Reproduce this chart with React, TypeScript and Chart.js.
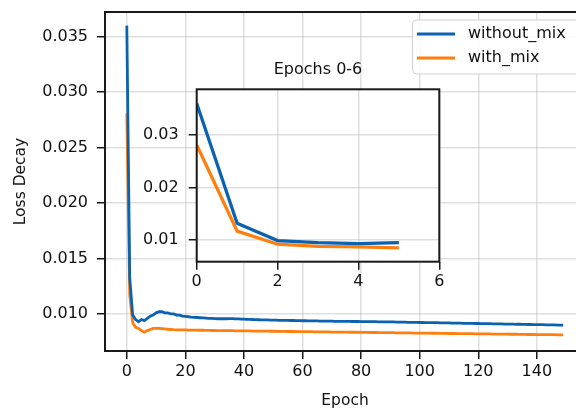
import React, { useEffect, useRef } from "react";
import { Chart, registerables } from "chart.js";

Chart.register(...registerables);

const FONT = "'DejaVu Sans', sans-serif";

const EPOCHS: number[] = Array.from({ length: 150 }, (_, i) => i);

const WITHOUT_MIX: number[] = [
  0.036, 0.0132, 0.0099, 0.0095, 0.0093, 0.0095, 0.0094, 0.0096, 0.0098, 0.0099,
  0.0101, 0.0102, 0.0102, 0.0101, 0.0101, 0.01, 0.01, 0.0099, 0.0099, 0.0098,
  0.00978,
  0.00975, 0.00972, 0.0097, 0.00968, 0.00966, 0.00964, 0.00962, 0.0096, 0.0096, 0.00958,
  0.00957, 0.00957, 0.00958, 0.00957, 0.00958, 0.00958, 0.00956, 0.00955, 0.00954, 0.00953,
  0.00952, 0.00951, 0.0095, 0.00949, 0.00948, 0.00947, 0.00946, 0.00946, 0.00945, 0.00944,
  0.00944, 0.00943, 0.00943, 0.00942, 0.00942, 0.00941, 0.00941, 0.0094, 0.0094, 0.00939,
  0.00939, 0.00938, 0.00938, 0.00937, 0.00937, 0.00936, 0.00936, 0.00936, 0.00935, 0.00935,
  0.00934, 0.00934, 0.00934, 0.00933, 0.00933, 0.00933, 0.00932, 0.00932, 0.00932, 0.00931,
  0.00931, 0.00931, 0.0093, 0.0093, 0.0093, 0.00929, 0.00929, 0.00929, 0.00928, 0.00928,
  0.00928, 0.00927, 0.00927, 0.00926, 0.00926, 0.00925, 0.00925, 0.00924, 0.00924, 0.00923,
  0.00923, 0.00922, 0.00922, 0.00921, 0.00921, 0.00921, 0.0092, 0.0092, 0.00919, 0.00919,
  0.00918, 0.00918, 0.00917, 0.00917, 0.00916, 0.00916, 0.00915, 0.00915, 0.00914, 0.00914,
  0.00913, 0.00913, 0.00912, 0.00912, 0.00911, 0.00911, 0.0091, 0.0091, 0.00909, 0.00909,
  0.00908, 0.00908, 0.00907, 0.00907, 0.00906, 0.00906, 0.00905, 0.00905, 0.00904, 0.00904,
  0.00903, 0.00903, 0.00902, 0.00902, 0.00901, 0.00901, 0.009, 0.009, 0.009,
];

const WITH_MIX: number[] = [
  0.0281, 0.0117, 0.0092, 0.0088, 0.0087, 0.0085, 0.00835, 0.0085, 0.0086, 0.0087,
  0.0087, 0.0087, 0.00868, 0.00865, 0.00862, 0.0086, 0.00858, 0.00857, 0.00857, 0.00856,
  0.00856,
  0.00855, 0.00855, 0.00854, 0.00854, 0.00853, 0.00853, 0.00852, 0.00852, 0.00851, 0.00851,
  0.0085, 0.0085, 0.0085, 0.00849, 0.00849, 0.00849, 0.00848, 0.00848, 0.00848, 0.00847,
  0.00847, 0.00847, 0.00846, 0.00846, 0.00846, 0.00845, 0.00845, 0.00845, 0.00844, 0.00844,
  0.00844, 0.00843, 0.00843, 0.00843, 0.00842, 0.00842, 0.00842, 0.00841, 0.00841, 0.00841,
  0.0084, 0.0084, 0.0084, 0.00839, 0.00839, 0.00839, 0.00838, 0.00838, 0.00838, 0.00837,
  0.00837, 0.00837, 0.00836, 0.00836, 0.00836, 0.00835, 0.00835, 0.00835, 0.00835, 0.00834,
  0.00834, 0.00834, 0.00833, 0.00833, 0.00833, 0.00832, 0.00832, 0.00832, 0.00831, 0.00831,
  0.00831, 0.0083, 0.0083, 0.0083, 0.00829, 0.00829, 0.00829, 0.00828, 0.00828, 0.00828,
  0.00827, 0.00827, 0.00827, 0.00826, 0.00826, 0.00826, 0.00825, 0.00825, 0.00825, 0.00824,
  0.00824, 0.00824, 0.00823, 0.00823, 0.00823, 0.00822, 0.00822, 0.00822, 0.00821, 0.00821,
  0.00821, 0.0082, 0.0082, 0.0082, 0.00819, 0.00819, 0.00819, 0.00818, 0.00818, 0.00818,
  0.00817, 0.00817, 0.00817, 0.00816, 0.00816, 0.00816, 0.00815, 0.00815, 0.00815, 0.00814,
  0.00814, 0.00814, 0.00813, 0.00813, 0.00813, 0.00813, 0.00812, 0.00812, 0.00812,
];

const SERIES_LABELS = ["without_mix", "with_mix"];
const SERIES_COLORS = ["#0b62ae", "#ff7f0e"];

const MAIN_X_TICKS = [0, 20, 40, 60, 80, 100, 120, 140];
const MAIN_Y_TICKS = [0.01, 0.015, 0.02, 0.025, 0.03, 0.035];
const INSET_EPOCH_COUNT = 6; // epochs 0..5
const INSET_X_TICKS = [0, 2, 4, 6];
const INSET_Y_TICKS = [0.01, 0.02, 0.03];
const INSET_TITLE = "Epochs 0-6";

const GRID = "rgba(170,170,170,0.38)";
const SPINE = "#1a1a1a";
const TEXT = "#111111";

const toXY = (ys: number[], n?: number) =>
  EPOCHS.slice(0, n ?? EPOCHS.length).map((e, i) => ({ x: e, y: ys[i] }));

const spinePlugin = {
  id: "spines",
  afterDatasetsDraw(chart: any) {
    const { ctx, chartArea: a } = chart;
    ctx.save();
    ctx.strokeStyle = SPINE;
    ctx.lineWidth = 2;
    ctx.strokeRect(a.left, a.top, a.right - a.left, a.bottom - a.top);
    ctx.restore();
  },
};

const legendPlugin = {
  id: "mplLegend",
  afterDraw(chart: any) {
    const { ctx } = chart;
    ctx.save();
    const x = 412.5, y = 20, w = 180, h = 54, r = 4;
    ctx.beginPath();
    ctx.moveTo(x + r, y);
    ctx.lineTo(x + w - r, y);
    ctx.arcTo(x + w, y, x + w, y + r, r);
    ctx.lineTo(x + w, y + h - r);
    ctx.arcTo(x + w, y + h, x + w - r, y + h, r);
    ctx.lineTo(x + r, y + h);
    ctx.arcTo(x, y + h, x, y + h - r, r);
    ctx.lineTo(x, y + r);
    ctx.arcTo(x, y, x + r, y, r);
    ctx.closePath();
    ctx.fillStyle = "rgba(255,255,255,0.85)";
    ctx.fill();
    ctx.strokeStyle = "#d0d0d0";
    ctx.lineWidth = 1;
    ctx.stroke();
    chart.data.datasets.forEach((ds: any, i: number) => {
      const yy = 34 + i * 24;
      ctx.beginPath();
      ctx.moveTo(417, yy);
      ctx.lineTo(455, yy);
      ctx.strokeStyle = ds.borderColor;
      ctx.lineWidth = 3;
      ctx.stroke();
      ctx.fillStyle = TEXT;
      ctx.font = `16px ${FONT}`;
      ctx.textBaseline = "middle";
      ctx.textAlign = "left";
      ctx.fillText(ds.label, 468, yy);
    });
    ctx.restore();
  },
};

const insetBgPlugin = {
  id: "insetBg",
  beforeDraw(chart: any) {
    const { ctx, chartArea: a } = chart;
    ctx.save();
    ctx.fillStyle = "#ffffff";
    ctx.fillRect(a.left, a.top, a.right - a.left, a.bottom - a.top);
    ctx.restore();
  },
  afterDraw(chart: any) {
    const { ctx, chartArea: a } = chart;
    ctx.save();
    ctx.fillStyle = TEXT;
    ctx.font = `16px ${FONT}`;
    ctx.textAlign = "center";
    ctx.textBaseline = "middle";
    ctx.fillText(INSET_TITLE, (a.left + a.right) / 2, 14.5);
    ctx.restore();
  },
};

function makeScale(opts: any) {
  return {
    type: "linear",
    min: opts.min,
    max: opts.max,
    afterBuildTicks: (s: any) => {
      s.ticks = opts.ticks.map((v: number) => ({ value: v }));
    },
    afterFit: (s: any) => {
      if (opts.width !== undefined) s.width = opts.width;
      if (opts.height !== undefined) s.height = opts.height;
      s.paddingTop = 0;
      s.paddingBottom = 0;
      s.paddingLeft = 0;
      s.paddingRight = 0;
    },
    border: { display: false },
    grid: {
      color: GRID,
      lineWidth: 1.5,
      tickColor: SPINE,
      tickWidth: 1.5,
      tickLength: 8,
      drawTicks: true,
    },
    ticks: {
      color: TEXT,
      font: { family: FONT, size: 16 },
      padding: opts.padding,
      maxRotation: 0,
      autoSkip: false,
      callback: opts.fmt,
    },
    title: opts.title
      ? {
          display: true,
          text: opts.title,
          color: TEXT,
          font: { family: FONT, size: 15.5 },
          padding: opts.titlePadding,
        }
      : { display: false },
  };
}

export default function App() {
  const mainRef = useRef<HTMLCanvasElement>(null);
  const insetRef = useRef<HTMLCanvasElement>(null);

  useEffect(() => {
    const datasetsFor = (n?: number, lw = 2.5) =>
      [WITHOUT_MIX, WITH_MIX].map((ys, i) => ({
        label: SERIES_LABELS[i],
        data: toXY(ys, n),
        borderColor: SERIES_COLORS[i],
        backgroundColor: SERIES_COLORS[i],
        borderWidth: lw,
        pointRadius: 0,
        tension: 0,
        fill: false,
      }));

    const main = new Chart(mainRef.current!, {
      type: "line",
      data: { datasets: datasetsFor(undefined, 2.8) as any },
      options: {
        responsive: false,
        animation: false,
        devicePixelRatio: 1,
        layout: { padding: { left: 0, top: 12, right: 15, bottom: 0 } },
        plugins: { legend: { display: false }, tooltip: { enabled: false } },
        scales: {
          x: makeScale({
            min: -7.45,
            max: 156.45,
            ticks: MAIN_X_TICKS,
            height: 59,
            padding: 3,
            fmt: (v: any) => String(v),
            title: "Epoch",
            titlePadding: { top: 0, bottom: 0 },
          }) as any,
          y: makeScale({
            min: 0.00666,
            max: 0.03723,
            ticks: MAIN_Y_TICKS,
            width: 105,
            padding: 9,
            fmt: (v: any) => Number(v).toFixed(3),
            title: "Loss Decay",
            titlePadding: { top: 12, bottom: 0 },
          }) as any,
        },
      },
      plugins: [spinePlugin, legendPlugin],
    });

    const inset = new Chart(insetRef.current!, {
      type: "line",
      data: { datasets: datasetsFor(INSET_EPOCH_COUNT, 3.3) as any },
      options: {
        responsive: false,
        animation: false,
        devicePixelRatio: 1,
        layout: { padding: { left: 0, top: 34.3, right: 10.7, bottom: 0 } },
        plugins: { legend: { display: false }, tooltip: { enabled: false } },
        scales: {
          x: makeScale({
            min: 0,
            max: 6,
            ticks: INSET_X_TICKS,
            height: 38.3,
            padding: 3,
            fmt: (v: any) => String(v),
          }) as any,
          y: makeScale({
            min: 0.00587,
            max: 0.0387,
            ticks: INSET_Y_TICKS,
            width: 66.7,
            padding: 10,
            fmt: (v: any) => Number(v).toFixed(2),
          }) as any,
        },
      },
      plugins: [insetBgPlugin, spinePlugin],
    });

    return () => {
      main.destroy();
      inset.destroy();
    };
  }, []);

  return (
    <div
      style={{
        position: "fixed",
        left: 0,
        top: 0,
        width: 576,
        height: 410,
        overflow: "hidden",
        background: "#fff",
      }}
    >
      <canvas
        ref={mainRef}
        width={600}
        height={410}
        style={{ position: "absolute", left: 0, top: 0, width: 600, height: 410 }}
      />
      <canvas
        ref={insetRef}
        width={320}
        height={245}
        style={{ position: "absolute", left: 130, top: 55, width: 320, height: 245 }}
      />
    </div>
  );
}
